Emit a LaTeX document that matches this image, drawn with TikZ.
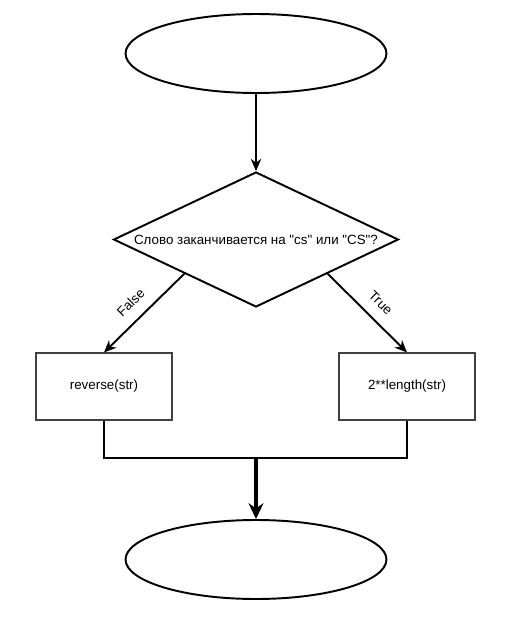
\documentclass[tikz,border=0pt]{standalone}
\usepackage{fontspec}
\setmainfont{Liberation Sans}[Ligatures=TeXOff]
\usepackage{tikz}
\usetikzlibrary{positioning,arrows.meta}
\usetikzlibrary{shapes}
\tikzset{every picture/.style={line width=1.1pt}}
\tikzset{
  terminal/.style={ellipse,draw,minimum width=5.22cm,minimum height=1.58cm},
  decision/.style={diamond,draw,minimum width=5.7cm,minimum height=2.7cm,inner sep=0pt},
  process/.style={rectangle,draw=black!75,line width=0.6pt,minimum width=2.72cm,minimum height=1.34cm},
  txt/.style={font=\fontsize{7.6}{9}\selectfont},
  flow/.style={-{Stealth[length=7pt,width=6pt]}}
}

\begin{document}
\begin{tikzpicture}[x=0.02cm,y=-0.02cm]
\useasboundingbox (0,0) rectangle (508,620);
\node[terminal] (start) at (256,53.5) {};
\node[decision] (q) at (256,239.5) {};
\node[txt] (qtext) at (256,239.5) {Слово заканчивается на "cs" или "CS"?};
%
\node[process,txt] (rev) at (104,386.5) {reverse(str)};
\node[process,txt] (pow) at (407,386.5) {2**length(str)};
\coordinate (join) at (256,458);
\node[terminal] (stop) at (256,559.5) {};
%
\draw[flow] (start) -- (q);
\draw[flow] (q.south west) -- node[txt,sloped,above=3pt,pos=0.52] (nfalse) {False} (rev.north);
\draw[flow] (q.south east) -- node[txt,sloped,above=3pt,pos=0.52] (ntrue) {True} (pow.north);
\draw (rev.south) |- (join) -| (pow.south);
\draw[-{Stealth[length=9pt,width=8.5pt]},line width=2pt] (join) -- (stop);
\end{tikzpicture}
\end{document}
